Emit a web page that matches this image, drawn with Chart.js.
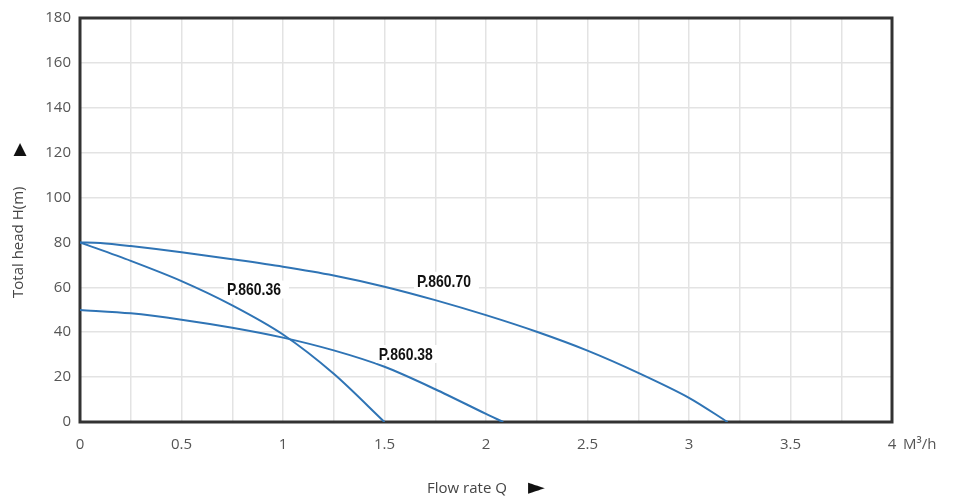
<!DOCTYPE html>
<html>
<head>
<meta charset="utf-8">
<script src="https://cdn.jsdelivr.net/npm/chart.js@4/dist/chart.umd.min.js"></script>
<style>
  html, body { margin: 0; padding: 0; background: #fff; }
  #wrap { width: 958px; height: 501px; }
</style>
</head>
<body>
<div id="wrap"><canvas id="chart"></canvas></div>
<script>
// pump curves, flow Q (m3/h) vs total head H (m)
const q70 = [0, 0.1, 0.25, 0.5, 0.75, 1, 1.25, 1.5, 1.75, 2, 2.25, 2.5, 2.75, 3, 3.19]
const h70 = [80, 79.8, 78.4, 75.6, 72.5, 69.2, 65.3, 60.3, 54.3, 47.6, 40.2, 31.8, 21.9, 10.8, 0]

const q36 = [0, 0.25, 0.5, 0.75, 1, 1.25, 1.5]
const h36 = [80, 71.8, 62.8, 52, 39, 21.5, 0]

const q38 = [0, 0.25, 0.5, 0.75, 1, 1.25, 1.5, 1.75, 2, 2.085]
const h38 = [49.9, 48.4, 45.6, 42, 37.6, 31.9, 24.6, 14.6, 3.6, 0]

const yTicks = [0, 20, 40, 60, 80, 100, 120, 140, 160, 180]

const labelTexts = ['P.860.70', 'P.860.36', 'P.860.38']
const labelQ = [1.793, 0.857, 1.605]
const labelH = [62.9, 59.0, 30.3]

const lineColor = '#2f74b5'
const tickColor = '#555'
const titleColor = '#444'

function pts(xs, ys) {
    return xs.map((x, i) => ({ x: x, y: ys[i] }))
}

function curve(name, xs, ys) {
    return {
        label: name,
        data: pts(xs, ys),
        borderColor: lineColor,
        borderWidth: 2,
        pointRadius: 0,
        fill: false,
        tension: 0.3
    }
}

const framePlugin = {
    id: 'frame',
    beforeDatasetsDraw(chart) {
        const { ctx, chartArea: a } = chart
        ctx.save()
        ctx.strokeStyle = '#333'
        ctx.lineWidth = 3
        ctx.strokeRect(a.left, a.top, a.right - a.left, a.bottom - a.top)
        ctx.restore()
    },
    afterDraw(chart) {
        const { ctx, chartArea: a } = chart
        ctx.save()
        ctx.font = '15px "Open Sans"'
        ctx.fillStyle = tickColor
        ctx.textBaseline = 'middle'
        ctx.fillText('M³/h', a.right + 11, 445)

        // axis titles
        ctx.fillStyle = titleColor
        ctx.textAlign = 'left'
        ctx.fillText('Flow rate Q', 427, 489)
        ctx.font = '22px "DejaVu Sans"'
        ctx.fillStyle = '#111'
        ctx.fillText('►', 528, 488)

        ctx.save()
        ctx.translate(19, 298)
        ctx.rotate(-Math.PI / 2)
        ctx.font = '15px "Open Sans"'
        ctx.fillStyle = titleColor
        ctx.fillText('Total head H(m)', 0, 0)
        ctx.restore()

        ctx.font = '17px "DejaVu Sans"'
        ctx.fillStyle = '#111'
        ctx.textAlign = 'center'
        ctx.fillText('▲', 20, 150)
        ctx.restore()
    }
}

const curveLabels = {
    id: 'curveLabels',
    afterDatasetsDraw(chart) {
        const { ctx } = chart
        const xs = chart.scales.x, ys = chart.scales.y
        ctx.save()
        ctx.font = 'bold 17px "Liberation Sans"'
        ctx.textBaseline = 'middle'
        labelTexts.forEach((t, i) => {
            const cx = xs.getPixelForValue(labelQ[i])
            const cy = ys.getPixelForValue(labelH[i])
            const w = ctx.measureText(t).width * 0.82
            ctx.fillStyle = '#fff'
            ctx.fillRect(cx - w / 2 - 3, cy - 9, w + 11, 18)
            ctx.save()
            ctx.translate(cx - w / 2, cy)
            ctx.scale(0.82, 1)
            ctx.fillStyle = '#111'
            ctx.fillText(t, 0, 1)
            ctx.restore()
        })
        ctx.restore()
    }
}

new Chart(document.getElementById('chart'), {
    type: 'line',
    data: {
        datasets: [
            curve('P.860.70', q70, h70),
            curve('P.860.36', q36, h36),
            curve('P.860.38', q38, h38)
        ]
    },
    options: {
        responsive: true,
        maintainAspectRatio: false,
        animation: false,
        layout: { padding: { top: 14, right: 66, bottom: 0, left: 0 } },
        plugins: {
            legend: { display: false },
            tooltip: { enabled: false }
        },
        scales: {
            x: {
                type: 'linear',
                min: 0,
                max: 4,
                afterFit: s => { s.height = 79 },
                grid: { color: '#e3e3e3', lineWidth: 1.5, drawTicks: false },
                border: { display: false },
                ticks: {
                    stepSize: 0.25,
                    autoSkip: false,
                    maxRotation: 0,
                    padding: 14,
                    color: tickColor,
                    font: { family: 'Open Sans', size: 15 },
                    callback: v => (Math.round(v * 100) % 50 === 0 ? String(v) : '')
                }
            },
            y: {
                min: 0,
                max: 180,
                afterFit: s => { s.width = 80 },
                afterBuildTicks: s => { s.ticks = yTicks.map(v => ({ value: v })) },
                grid: { color: '#e3e3e3', lineWidth: 1.5, drawTicks: false },
                border: { display: false },
                ticks: {
                    padding: 9,
                    color: tickColor,
                    font: { family: 'Open Sans', size: 15 }
                }
            }
        }
    },
    plugins: [framePlugin, curveLabels]
})
</script>
</body>
</html>
